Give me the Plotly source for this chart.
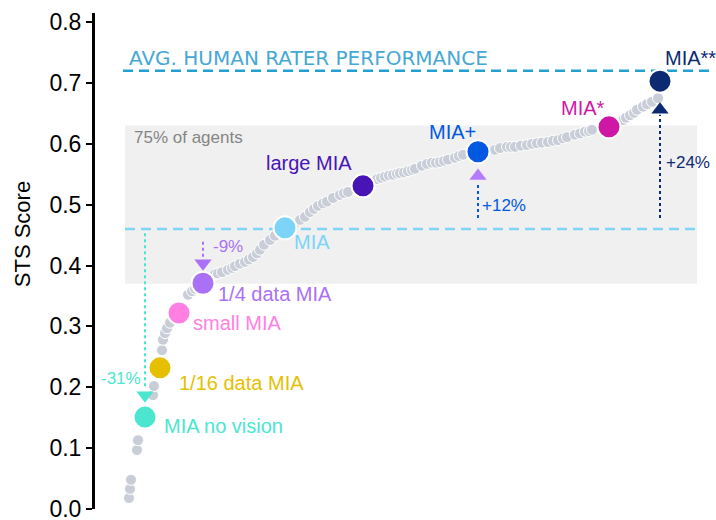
import plotly.graph_objects as go

# ---------------- data ----------------
# grey dots: all agents, x = rank position, y = STS score
agent_x = [34, 35, 36, 42, 43, 54, 58, 59, 67, 68, 70, 72, 75, 93, 97, 100,
           120, 123, 127, 133, 137, 140, 145, 150, 154, 158, 162, 165, 169, 175, 180,
           200, 205, 210, 215, 219, 223, 228, 232, 238, 245, 249, 253,
           282, 286, 290, 294, 298, 302, 305, 309, 313, 317, 320, 327, 332, 337, 341, 345, 349, 353, 360, 364, 368,
           400, 405, 412, 416, 420, 426, 432, 437, 442, 447, 453, 458, 463, 468, 472, 480, 485, 490, 494, 497,
           528, 531, 535, 539, 542, 548, 552, 557, 563]
agent_y = [0.018, 0.033, 0.048, 0.097, 0.113, 0.153, 0.187, 0.202, 0.261, 0.278, 0.289, 0.297, 0.306, 0.352, 0.358, 0.362,
           0.386, 0.387, 0.389, 0.393, 0.396, 0.399, 0.403, 0.406, 0.410, 0.414, 0.420, 0.426, 0.434, 0.442, 0.449,
           0.470, 0.475, 0.480, 0.488, 0.493, 0.498, 0.502, 0.505, 0.511, 0.516, 0.519, 0.521,
           0.542, 0.544, 0.546, 0.548, 0.549, 0.551, 0.552, 0.553, 0.555, 0.557, 0.559, 0.564, 0.567, 0.569, 0.569,
           0.570, 0.572, 0.574, 0.577, 0.580, 0.582,
           0.590, 0.593, 0.595, 0.595, 0.595, 0.597, 0.598, 0.600, 0.601, 0.602, 0.603, 0.605, 0.606, 0.609, 0.611,
           0.615, 0.617, 0.620, 0.621, 0.623,
           0.639, 0.643, 0.647, 0.651, 0.656, 0.661, 0.665, 0.669, 0.675]

# highlighted models
model_names = ["MIA no vision", "1/16 data MIA", "small MIA", "1/4 data MIA", "MIA",
               "large MIA", "MIA+", "MIA*", "MIA**"]
model_x = [50, 65, 84, 108, 190, 268, 383, 514, 565]
model_y = [0.151, 0.232, 0.322, 0.371, 0.462, 0.531, 0.587, 0.628, 0.703]
model_colors = ["#4ae6d0", "#e6c000", "#ff7fe2", "#aa70f6", "#7dd4f8",
                "#4714b5", "#0059e0", "#cf17a6", "#0b2a72"]
# label anchor (left edge x, centre y)
label_x = [67, 82, 96, 121, 197, 169, 332, 464, 568]
label_y = [0.136, 0.207, 0.306, 0.353, 0.439, 0.569, 0.620, 0.659, 0.741]

# reference levels
human_score = 0.72
mia_score = 0.46
band_low, band_high = 0.37, 0.63
band_x0, band_x1 = 30, 602

# relative change arrows
arrow_text = ["-31%", "-9%", "+12%", "+24%"]
arrow_x = [50, 108, 383, 565]
arrow_from = [0.453, 0.439, 0.478, 0.478]
arrow_to = [0.197, 0.414, 0.537, 0.648]
arrow_head_y = [0.187, 0.404, 0.547, 0.656]
arrow_symbol = ["triangle-down", "triangle-down", "triangle-up", "triangle-up"]
arrow_line_color = ["#4ae6d0", "#aa70f6", "#0059e0", "#0b2a72"]
arrow_head_color = ["#4ae6d0", "#aa70f6", "#b57bff", "#0b2a72"]
arrow_text_color = ["#4ae6d0", "#aa70f6", "#0059e0", "#0b2a72"]
arrow_text_x = [48, 116, 385, 569]
arrow_text_y = [0.215, 0.432, 0.498, 0.570]
arrow_text_anchor = ["right", "left", "left", "left"]

y_ticks = [0.0, 0.1, 0.2, 0.3, 0.4, 0.5, 0.6, 0.7, 0.8]

FONT = "Liberation Sans, Arial, sans-serif"

fig = go.Figure()

# grey band
fig.add_shape(type="rect", x0=band_x0, x1=band_x1, y0=band_low, y1=band_high,
              fillcolor="#f0f0f0", line=dict(width=0), layer="below")
# dashed reference lines
fig.add_shape(type="line", x0=28, x1=614, y0=human_score, y1=human_score,
              line=dict(color="#22a0d0", width=2.5, dash="10px,6px"), layer="below")
fig.add_shape(type="line", x0=band_x0, x1=band_x1, y0=mia_score, y1=mia_score,
              line=dict(color="#80d4f6", width=2.5, dash="10px,6px"), layer="below")

# arrows (dotted stems)
for i in range(len(arrow_text)):
    fig.add_trace(go.Scatter(x=[arrow_x[i], arrow_x[i]], y=[arrow_from[i], arrow_to[i]],
                             mode="lines", line=dict(color=arrow_line_color[i], width=2, dash="dot"),
                             hoverinfo="skip", showlegend=False))

# grey agents
fig.add_trace(go.Scatter(x=agent_x, y=agent_y, mode="markers",
                         marker=dict(size=11, color="#c8cdd7", line=dict(color="white", width=1)),
                         hoverinfo="skip", showlegend=False))

# arrow heads
for i in range(len(arrow_text)):
    fig.add_trace(go.Scatter(x=[arrow_x[i]], y=[arrow_head_y[i]], mode="markers",
                             marker=dict(symbol=arrow_symbol[i], size=15, color=arrow_head_color[i],
                                         line=dict(width=0)),
                             hoverinfo="skip", showlegend=False))

# highlighted models
fig.add_trace(go.Scatter(x=model_x, y=model_y, mode="markers",
                         marker=dict(size=23, color=model_colors, line=dict(color="white", width=2)),
                         hoverinfo="skip", showlegend=False))

# model labels
for i, name in enumerate(model_names):
    fig.add_annotation(x=label_x[i], y=label_y[i], text=name, showarrow=False,
                       xanchor="left", yanchor="middle",
                       font=dict(family=FONT, size=20, color=model_colors[i]))

# arrow labels
for i, t in enumerate(arrow_text):
    fig.add_annotation(x=arrow_text_x[i], y=arrow_text_y[i], text=t, showarrow=False,
                       xanchor=arrow_text_anchor[i], yanchor="middle",
                       font=dict(family=FONT, size=17, color=arrow_text_color[i]))

fig.add_annotation(x=37, y=0.611, text="75% of agents", showarrow=False,
                   xanchor="left", yanchor="middle",
                   font=dict(family=FONT, size=17, color="#858585"))
fig.add_annotation(x=32, y=0.741, text="AVG. HUMAN RATER PERFORMANCE", showarrow=False,
                   xanchor="left", yanchor="middle",
                   font=dict(family="DejaVu Sans, Verdana, sans-serif", size=20, color="#45a8d4"))

# y-axis title (placed as rotated text, higher than domain centre like the original)
fig.add_annotation(xref="paper", yref="paper", x=-0.1185, y=0.554, text="STS Score",
                   showarrow=False, textangle=-90, xanchor="center", yanchor="middle",
                   font=dict(family=FONT, size=22, color="black"))

fig.update_layout(
    width=716, height=520,
    margin=dict(l=95, r=5, t=13, b=11, autoexpand=False),
    paper_bgcolor="white", plot_bgcolor="white",
    showlegend=False,
    xaxis=dict(range=[0, 616], visible=False),
    yaxis=dict(range=[0, 0.815], tickvals=y_ticks, ticktext=[f"{v:.1f}" for v in y_ticks],
               automargin=False, ticklabeloverflow="allow",
               showline=True, linewidth=3, linecolor="black", showgrid=False, zeroline=False,
               ticks="outside", ticklen=6, tickwidth=2, tickcolor="black",
               tickfont=dict(family=FONT, size=23, color="black")),
)

fig.write_html("out.html", config={"displayModeBar": False},
               post_script="document.body.style.margin='0';document.body.style.overflow='hidden';")
